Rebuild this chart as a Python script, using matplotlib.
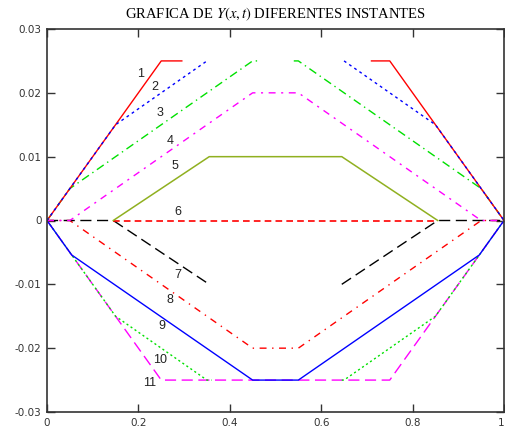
import numpy as np
import matplotlib
matplotlib.use("Agg")
import matplotlib.pyplot as plt

nan = np.nan

# curves Y(x,t) at the different instants
x1 = [0, 0.2, 0.25, 0.295, nan, 0.71, 0.75, 0.8, 1]
y1 = [0, 0.02, 0.025, 0.025, nan, 0.025, 0.025, 0.02, 0]
x2 = [0, 0.15, 0.35, nan, 0.65, 0.85, 1]
y2 = [0, 0.015, 0.025, nan, 0.025, 0.015, 0]
x3 = [0, 0.05, 0.45, 0.46, nan, 0.54, 0.55, 0.95, 1]
y3 = [0, 0.005, 0.025, 0.025, nan, 0.025, 0.025, 0.005, 0]
x4 = [0, 0.05, 0.45, 0.55, 0.95, 1]
y4 = [0, 0, 0.02, 0.02, 0, 0]
x5 = [0.145, 0.355, 0.645, 0.855]
y5 = [0, 0.01, 0.01, 0]
x6 = [0.145, 0.855]
y6 = [0, 0]
x7 = [0, 0.145, 0.355, nan, 0.645, 0.855, 1]
y7 = [0, 0, -0.01, nan, -0.01, 0, 0]
x8 = [0, 0.05, 0.45, 0.55, 0.95, 1]
y8 = [0, 0, -0.02, -0.02, 0, 0]
x9 = [0, 0.054, 0.45, 0.55, 0.946, 1]
y9 = [0, -0.0054, -0.025, -0.025, -0.0054, 0]
x10 = [0, 0.15, 0.35, 0.36, nan, 0.645, 0.65, 0.85, 1]
y10 = [0, -0.015, -0.025, -0.025, nan, -0.025, -0.025, -0.015, 0]
x11 = [0, 0.25, 0.75, 1]
y11 = [0, -0.025, -0.025, 0]

labels = ["1", "2", "3", "4", "5", "6", "7", "8", "9", "10", "11"]
label_x = [0.204, 0.236, 0.247, 0.269, 0.280, 0.287, 0.287, 0.269, 0.252, 0.247, 0.225]
label_y = [0.0230, 0.0209, 0.0169, 0.0125, 0.0086, 0.0014, -0.0086, -0.0125, -0.0166, -0.0219, -0.0255]

xticks = [0, 0.2, 0.4, 0.6, 0.8, 1]
xtick_labels = ["0", "0.2", "0.4", "0.6", "0.8", "1"]
yticks = [-0.03, -0.02, -0.01, 0, 0.01, 0.02, 0.03]
ytick_labels = ["-0.03", "-0.02", "-0.01", "0", "0.01", "0.02", "0.03"]

plt.rcParams['mathtext.fontset'] = 'stix'

fig = plt.figure(figsize=(5.05, 4.33), dpi=100)
ax = fig.add_axes([47 / 505, 21 / 433, 457 / 505, 383 / 433])

lw = 1.0
ax.plot(x11, y11, color='#ff00ff', lw=lw, ls=(0, (8, 4)))
ax.plot(x10, y10, color='#00e000', lw=lw, ls=(0, (1.5, 2)))
ax.plot(x9, y9, color='#0000ff', lw=lw)
ax.plot(x8, y8, color='#ff0000', lw=lw, ls=(0, (5, 4, 1, 4)))
ax.plot(x7, y7, color='black', lw=lw, ls=(0, (8, 4)))
ax.plot(x6, y6, color='#ff0000', lw=1.2, ls=(0, (4, 2.5)))
ax.plot(x5, y5, color='#90b020', lw=1.1)
ax.plot(x4, y4, color='#ff00ff', lw=lw, ls=(0, (5, 4, 1.5, 4)))
ax.plot(x3, y3, color='#00e000', lw=lw, ls=(0, (6, 3, 1, 3)))
ax.plot(x1, y1, color='#ff0000', lw=lw)
ax.plot(x2, y2, color='#0000ff', lw=lw, ls=(0, (2, 2.5)))

for lab, lx, ly in zip(labels, label_x, label_y):
    ax.text(lx, ly, lab, fontsize=9, color='#222222', ha='center', va='center',
            family='Liberation Sans')

ax.set_xlim(0, 1)
ax.set_ylim(-0.03, 0.03)
ax.set_xticks(xticks)
ax.set_xticklabels(xtick_labels)
ax.set_yticks(yticks)
ax.set_yticklabels(ytick_labels)
ax.tick_params(direction='in', length=6, width=1, colors='#333333', labelsize=7.5,
               top=True, right=True, pad=4)
ax.get_xticklabels()[-1].set_horizontalalignment('right')
for s in ax.spines.values():
    s.set_linewidth(1.2)
    s.set_color('#333333')

ax.set_title("GRAFICA DE $Y(x,t)$ DIFERENTES INSTANTES", family='Liberation Serif',
             fontsize=10.5, pad=8)

fig.savefig("out.png", dpi=100)
